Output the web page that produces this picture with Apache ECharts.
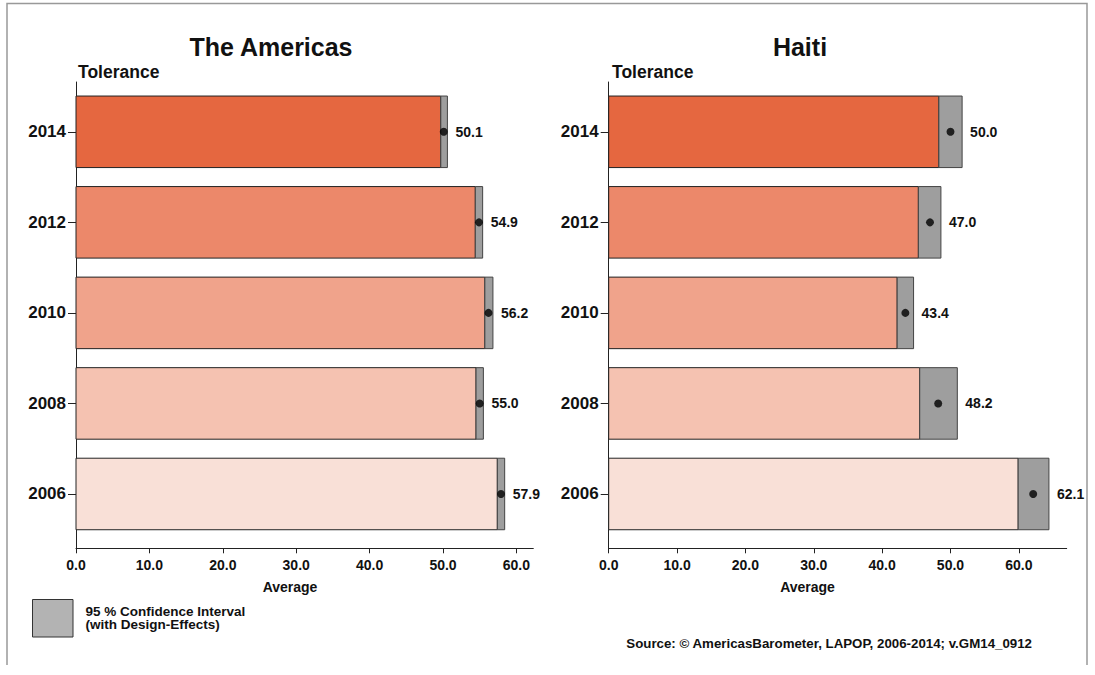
<!DOCTYPE html>
<html>
<head>
<meta charset="utf-8">
<script src="https://cdn.jsdelivr.net/npm/echarts@6/dist/echarts.min.js"></script>
<style>
html,body{margin:0;padding:0;background:#fff;}
#c{width:1095px;height:675px;}
</style>
</head>
<body>
<div id="c"></div>
<script>
// ---- data ----
const years = ['2006', '2008', '2010', '2012', '2014'];
const americasMean = [57.9, 55.0, 56.2, 54.9, 50.1];
const americasLow  = [57.4, 54.5, 55.7, 54.4, 49.7];
const americasHigh = [58.4, 55.5, 56.8, 55.4, 50.6];
const haitiMean = [62.1, 48.2, 43.4, 47.0, 50.0];
const haitiLow  = [59.9, 45.5, 42.2, 45.3, 48.3];
const haitiHigh = [64.4, 51.0, 44.6, 48.6, 51.7];
const xTicks = [0, 10, 20, 30, 40, 50, 60];
const panelTitles = ['The Americas', 'Haiti'];

// ---- styles ----
const barColors = ['#F9E0D7', '#F5C2B1', '#F0A38B', '#EC886A', '#E56740'];
const FONT = '"Liberation Sans", Arial, Helvetica, sans-serif';

function rows(mean, low, high) {
  return years.map((y, i) => [i, low[i], high[i], mean[i]]);
}

function renderBar(params, api) {
  const i = api.value(0), lo = api.value(1), hi = api.value(2), m = api.value(3);
  const p0 = api.coord([0, i]);
  const p1 = api.coord([lo, i]);
  const p2 = api.coord([hi, i]);
  const h = api.size([0, 0.79])[1];
  return {
    type: 'group',
    children: [
      { type: 'rect', shape: { x: p0[0], y: p0[1] - h / 2, width: p1[0] - p0[0], height: h },
        style: { fill: barColors[i], stroke: '#222', lineWidth: 1 } },
      { type: 'rect', shape: { x: p1[0], y: p1[1] - h / 2, width: p2[0] - p1[0], height: h },
        style: { fill: '#9E9E9E', stroke: '#444', lineWidth: 1 } },
      { type: 'text', x: p2[0] + 8, y: p2[1],
        style: { text: m.toFixed(1), fill: '#111', font: 'bold 14px ' + FONT, textAlign: 'left', textVerticalAlign: 'middle' } }
    ]
  };
}

function xAxisCfg(idx, max) {
  return {
    gridIndex: idx, type: 'value', min: 0, max: max,
    axisLine: { show: true, onZero: false, lineStyle: { color: '#222', width: 1 } },
    axisTick: { show: true, customValues: xTicks, length: 5, lineStyle: { color: '#222' } },
    axisLabel: { customValues: xTicks, formatter: v => v.toFixed(1), color: '#111',
      fontFamily: FONT, fontWeight: 'bold', fontSize: 14, margin: 10 },
    splitLine: { show: false }
  };
}
function yAxisCfg(idx) {
  return {
    gridIndex: idx, type: 'value', min: -0.6, max: 4.55,
    axisLine: { show: true, onZero: false, lineStyle: { color: '#222', width: 1 } },
    axisTick: { show: true, customValues: [0, 1, 2, 3, 4], length: 8, lineStyle: { color: '#222' } },
    axisLabel: { customValues: [0, 1, 2, 3, 4], formatter: v => years[Math.round(v)], color: '#111',
      fontFamily: FONT, fontWeight: 'bold', fontSize: 17, margin: 10 },
    splitLine: { show: false }
  };
}

function txt(x, y, text, size, align) {
  return {
    type: 'text', x: x, y: y,
    style: { text: text, fill: '#111', font: 'bold ' + size + 'px ' + FONT, textAlign: align, textVerticalAlign: 'middle' }
  };
}

const chart = echarts.init(document.getElementById('c'), null, { renderer: 'svg' });
chart.setOption({
  backgroundColor: '#fff',
  animation: false,
  grid: [
    { left: 76, right: 561.7, top: 82, bottom: 126.7 },
    { left: 608.7, right: 28.3, top: 82, bottom: 126.7 }
  ],
  xAxis: [xAxisCfg(0, 62.3), xAxisCfg(1, 67)],
  yAxis: [yAxisCfg(0), yAxisCfg(1)],
  series: [
    { type: 'custom', xAxisIndex: 0, yAxisIndex: 0, renderItem: renderBar,
      encode: { x: [1, 2], y: 0 }, data: rows(americasMean, americasLow, americasHigh), z: 2 },
    { type: 'scatter', xAxisIndex: 0, yAxisIndex: 0, symbolSize: 8, itemStyle: { color: '#000' },
      data: americasMean.map((m, i) => [m, i]), z: 5 },
    { type: 'custom', xAxisIndex: 1, yAxisIndex: 1, renderItem: renderBar,
      encode: { x: [1, 2], y: 0 }, data: rows(haitiMean, haitiLow, haitiHigh), z: 2 },
    { type: 'scatter', xAxisIndex: 1, yAxisIndex: 1, symbolSize: 8, itemStyle: { color: '#000' },
      data: haitiMean.map((m, i) => [m, i]), z: 5 }
  ],
  graphic: [
    { type: 'polyline', shape: { points: [[7, 665], [7, 3.5], [1087, 3.5], [1087, 665]] },
      style: { stroke: '#999', lineWidth: 1.5, fill: null }, silent: true },
    txt(271, 47, panelTitles[0], 25, 'center'),
    txt(800, 47, panelTitles[1], 25, 'center'),
    txt(78, 72, 'Tolerance', 17.5, 'left'),
    txt(612, 72, 'Tolerance', 17.5, 'left'),
    txt(290, 587, 'Average', 14, 'center'),
    txt(807.5, 587, 'Average', 14, 'center'),
    { type: 'rect', shape: { x: 32.5, y: 599.5, width: 40.5, height: 37.5 },
      style: { fill: '#B3B3B3', stroke: '#333', lineWidth: 1 } },
    txt(85.5, 611, '95 % Confidence Interval', 13.5, 'left'),
    txt(85.5, 624.5, '(with Design-Effects)', 13.5, 'left'),
    txt(1032, 643, 'Source: \u00A9 AmericasBarometer, LAPOP, 2006-2014; v.GM14_0912', 13.3, 'right')
  ]
});
</script>
</body>
</html>
